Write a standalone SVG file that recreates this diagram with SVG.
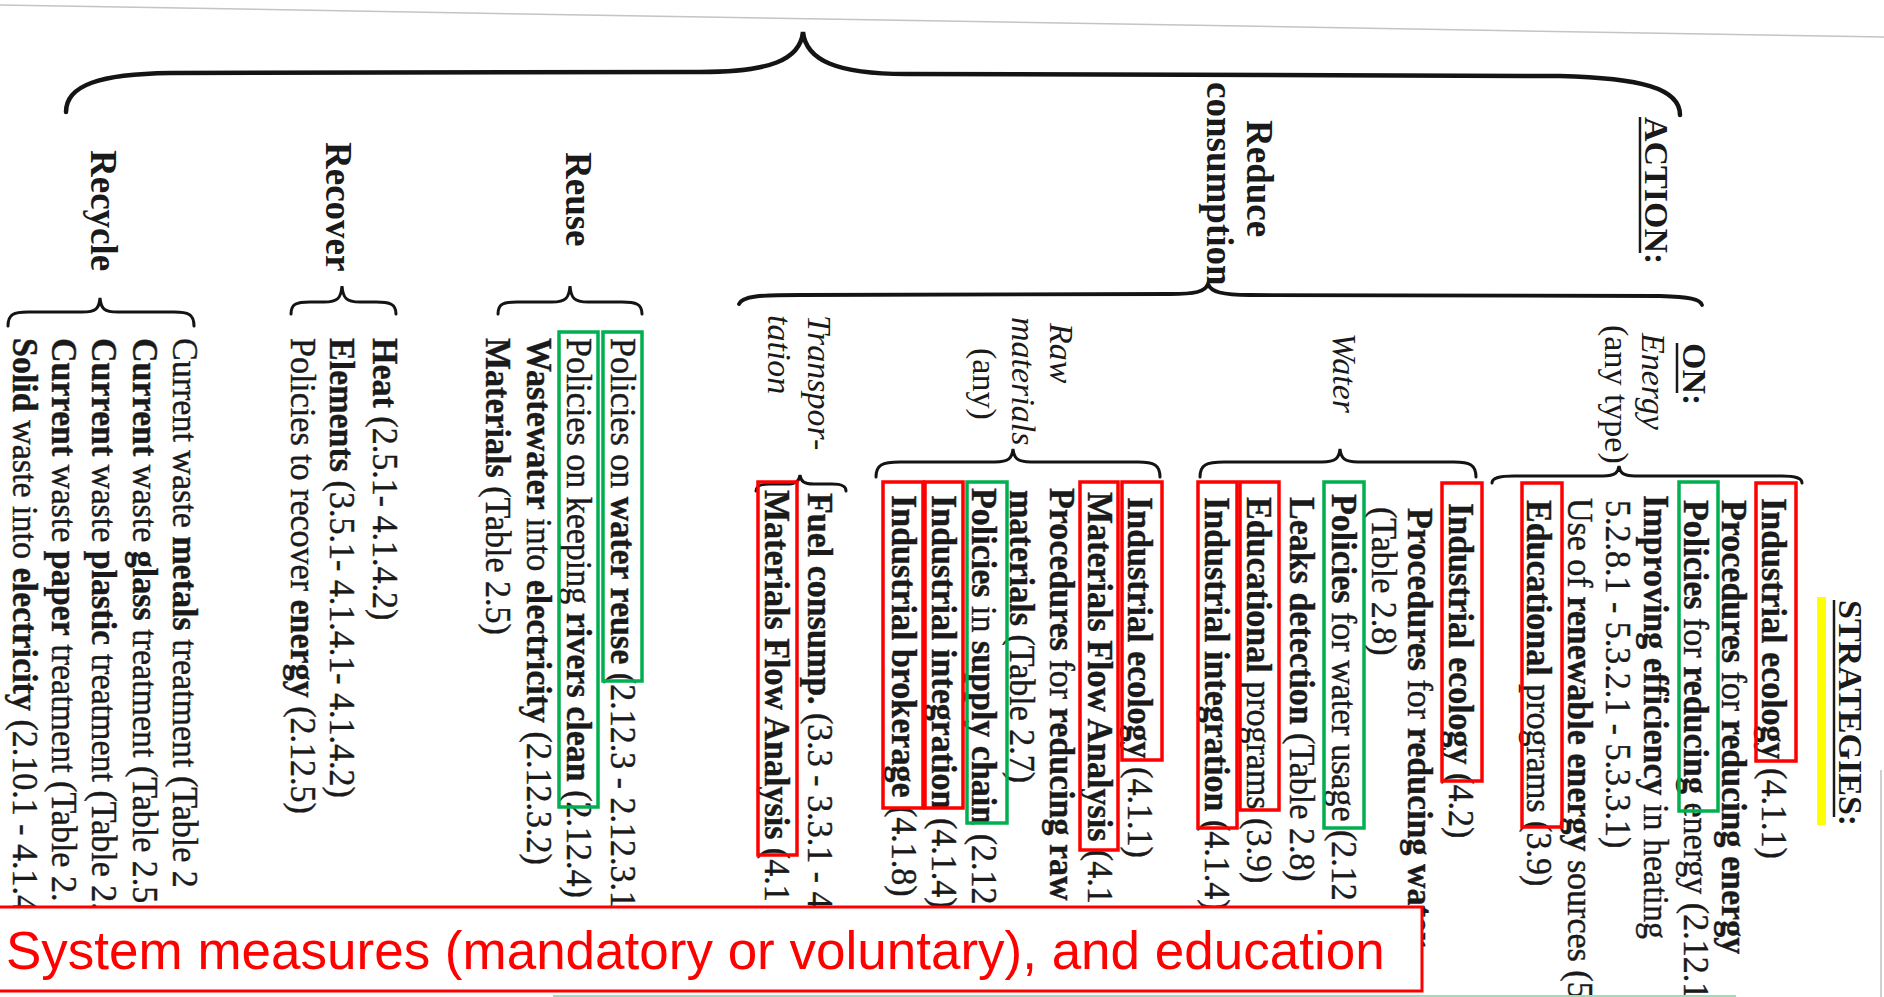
<svg xmlns="http://www.w3.org/2000/svg" width="1884" height="997" viewBox="0 0 1884 997">
<style>
text{font-family:"Liberation Serif","Times New Roman",serif;fill:#1a1a1a}
.t{font-size:34px;stroke:#1a1a1a;stroke-width:0.4}
.b{font-weight:bold}
.h{font-size:37px;font-weight:bold}
.hs{font-size:34px;font-weight:bold}
.i{font-size:34px;font-style:italic}
.br{fill:none;stroke:#141414;stroke-width:3;stroke-linecap:round}
.bigbr{fill:none;stroke:#141414;stroke-width:4.5;stroke-linecap:round}
.ul{stroke:#1a1a1a;stroke-width:2.5}
.rb{fill:none;stroke:#ff0000;stroke-width:3.5}
.gb{fill:none;stroke:#00b050;stroke-width:3.5}
.cap{font-family:"Liberation Sans",Arial,sans-serif;font-size:53px;fill:#ff0000}
</style>
<rect x="0" y="0" width="1884" height="997" fill="#ffffff"/>
<line x1="0" y1="5" x2="1884" y2="37" stroke="#c4c4c4" stroke-width="1.5"/>
<line x1="1881" y1="770" x2="1881" y2="997" stroke="#d0d0d0" stroke-width="2"/>

<g id="connectors">
<path class="bigbr" d="M66,112 C66,85 100,74 170,73 L700,72 C770,72 800,60 803,32 C806,60 836,74 906,74 L1560,76 C1640,78 1680,88 1680,115"/>
<path class="bigbr" style="stroke-width:3.8" d="M739,304 C742,296 760,295 800,295 L1170,294 C1195,294 1205,292 1208,284 C1211,292 1222,295 1250,295 L1660,296 C1690,297 1700,299 1702,305"/>
<path class="br" d="M8,326 C8,314 14,312 28,312 L82,312 C96,312 99,309 100,298 C101,309 104,312 118,312 L174,312 C188,312 194,314 194,326"/>
<path class="br" d="M291,314 C291,304 296,302 310,302 L324,302 C338,302 341,298 342,286 C343,298 346,302 360,302 L376,302 C390,302 396,304 396,314"/>
<path class="br" d="M498,314 C498,304 503,302 517,302 L552,302 C566,302 569,298 570,286 C571,298 574,302 588,302 L622,302 C636,302 642,304 642,314"/>
<path class="br" d="M756,491 C756,486 760,484 770,484 L786,484 C797,484 799,481 800,475 C801,481 803,484 814,484 L832,484 C842,484 846,486 846,491"/>
<path class="br" d="M876,477 C876,465 882,462 900,462 L995,462 C1009,462 1012,458 1013,449 C1014,458 1017,462 1031,462 L1138,462 C1154,462 1160,465 1160,477"/>
<path class="br" d="M1200,477 C1200,465 1206,462 1224,462 L1322,462 C1336,462 1339,458 1340,449 C1341,458 1344,462 1358,462 L1454,462 C1470,462 1476,465 1476,477"/>
<path class="br" d="M1492,483 C1492,478 1498,476 1514,476 L1603,476 C1616,476 1618,472 1619,466 C1620,472 1622,476 1635,476 L1782,476 C1796,476 1802,478 1802,483"/>
</g>

<g id="action">
<text class="hs" transform="translate(1645,117) rotate(90)">ACTION:</text>
<line class="ul" x1="1640" y1="117" x2="1640" y2="253"/>
</g>

<g id="strategies">
<rect x="1817" y="597" width="9" height="228" fill="#ffff00"/>
<text class="hs" transform="translate(1839,600) rotate(90)">STRATEGIES:</text>
<line class="ul" x1="1834" y1="600" x2="1834" y2="817"/>
</g>

<g id="recycle">
<text class="h" transform="translate(91,150) rotate(90)">Recycle</text>
<text class="t" transform="translate(173,338) rotate(90) scale(1,1.07)">Current waste <tspan class="b">metals</tspan> treatment (Table 2</text>
<text class="t" transform="translate(133,338) rotate(90) scale(1,1.07)"><tspan class="b">Current</tspan> waste <tspan class="b">glass</tspan> treatment (Table 2.5</text>
<text class="t" transform="translate(92,338) rotate(90) scale(1,1.07)"><tspan class="b">Current</tspan> waste <tspan class="b">plastic</tspan> treatment (Table 2.</text>
<text class="t" transform="translate(52,338) rotate(90) scale(1,1.07)"><tspan class="b">Current</tspan> waste <tspan class="b">paper</tspan> treatment (Table 2.</text>
<text class="t" transform="translate(13,338) rotate(90) scale(1,1.07)"><tspan class="b">Solid</tspan> waste into <tspan class="b">electricity</tspan> (2.10.1 - 4.1.4</text>
</g>

<g id="recover">
<text class="h" transform="translate(326,142) rotate(90)">Recover</text>
<text class="t" transform="translate(373,338) rotate(90) scale(1,1.07)"><tspan class="b">Heat</tspan> (2.5.1- 4.1.4.2)</text>
<text class="t" transform="translate(330,338) rotate(90) scale(1,1.07)"><tspan class="b">Elements</tspan> (3.5.1- 4.1.4.1- 4.1.4.2)</text>
<text class="t" transform="translate(291,338) rotate(90) scale(1,1.07)">Policies to recover <tspan class="b">energy</tspan> (2.12.5)</text>
</g>

<g id="reuse">
<text class="h" transform="translate(566,152) rotate(90)">Reuse</text>
<text class="t" transform="translate(611,338) rotate(90) scale(1,1.07)">Policies on <tspan class="b">water reuse</tspan> (2.12.3 - 2.12.3.1</text>
<text class="t" transform="translate(567,338) rotate(90) scale(1,1.07)">Policies on keeping <tspan class="b">rivers clean</tspan> (2.12.4)</text>
<text class="t" transform="translate(527,338) rotate(90) scale(1,1.07)"><tspan class="b">Wastewater</tspan> into <tspan class="b">electricity</tspan> (2.12.3.2)</text>
<text class="t" transform="translate(486,338) rotate(90) scale(1,1.07)"><tspan class="b">Materials</tspan> (Table 2.5)</text>
<rect class="gb" x="603" y="332" width="39" height="349"/>
<rect class="gb" x="559" y="332" width="39" height="475"/>
</g>

<g id="reduce">
<text class="h" transform="translate(1247,120) rotate(90)">Reduce</text>
<text class="h" transform="translate(1207,82) rotate(90)">consumption</text>
</g>

<g id="transportation">
<text class="i" transform="translate(808,315) rotate(90)">Transpor-</text>
<text class="i" transform="translate(768,315) rotate(90)">tation</text>
<text class="t" transform="translate(808,493) rotate(90) scale(1,1.07)"><tspan class="b">Fuel consump.</tspan> (3.3 - 3.3.1 - 4</text>
<text class="t" transform="translate(765,490) rotate(90) scale(1,1.07)"><tspan class="b">Materials Flow Analysis</tspan> (4.1</text>
<rect class="rb" x="758" y="482" width="39" height="373"/>
</g>

<g id="raw-materials">
<text class="i" transform="translate(1050,323) rotate(90)">Raw</text>
<text class="i" transform="translate(1012,317) rotate(90)">materials</text>
<text class="t" transform="translate(973,348) rotate(90)" style="stroke-width:0">(any)</text>
<text class="t" transform="translate(1128,497) rotate(90) scale(1,1.07)"><tspan class="b">Industrial ecology</tspan> (4.1.1)</text>
<text class="t" transform="translate(1088,492) rotate(90) scale(1,1.07)"><tspan class="b">Materials Flow Analysis</tspan> (4.1</text>
<text class="t" transform="translate(1050,488) rotate(90) scale(1,1.07)"><tspan class="b">Procedures</tspan> for <tspan class="b">reducing raw</tspan></text>
<text class="t" transform="translate(1010,490) rotate(90) scale(1,1.07)"><tspan class="b">materials</tspan> (Table 2.7)</text>
<text class="t" transform="translate(972,488) rotate(90) scale(1,1.07)"><tspan class="b">Policies</tspan> in <tspan class="b">supply chain</tspan> (2.12</text>
<text class="t" transform="translate(932,495) rotate(90) scale(1,1.07)"><tspan class="b">Industrial integration</tspan> (4.1.4)</text>
<text class="t" transform="translate(892,495) rotate(90) scale(1,1.07)"><tspan class="b">Industrial brokerage</tspan> (4.1.8)</text>
<rect class="rb" x="1122" y="482" width="40" height="278"/>
<rect class="rb" x="1080" y="482" width="38" height="368"/>
<rect class="gb" x="967" y="482" width="40" height="341"/>
<rect class="rb" x="925" y="482" width="38" height="326"/>
<rect class="rb" x="883" y="482" width="40" height="326"/>
</g>

<g id="water">
<text class="i" transform="translate(1333,333) rotate(90)">Water</text>
<text class="t" transform="translate(1449,503) rotate(90) scale(1,1.07)"><tspan class="b">Industrial ecology</tspan> (4.2)</text>
<text class="t" transform="translate(1408,508) rotate(90) scale(1,1.07)"><tspan class="b">Procedures</tspan> for <tspan class="b">reducing water</tspan></text>
<text class="t" transform="translate(1372,507) rotate(90) scale(1,1.07)">(Table 2.8)</text>
<text class="t" transform="translate(1332,494) rotate(90) scale(1,1.07)"><tspan class="b">Policies</tspan> for water usage (2.12</text>
<text class="t" transform="translate(1290,497) rotate(90) scale(1,1.07)"><tspan class="b">Leaks detection</tspan> (Table 2.8)</text>
<text class="t" transform="translate(1247,497) rotate(90) scale(1,1.07)"><tspan class="b">Educational</tspan> programs (3.9)</text>
<text class="t" transform="translate(1205,497) rotate(90) scale(1,1.07)"><tspan class="b">Industrial integration</tspan> (4.1.4)</text>
<rect class="rb" x="1442" y="483" width="40" height="298"/>
<rect class="gb" x="1324" y="482" width="40" height="346"/>
<rect class="rb" x="1240" y="482" width="39" height="328"/>
<rect class="rb" x="1198" y="482" width="39" height="346"/>
</g>

<g id="energy">
<text class="hs" transform="translate(1683,343) rotate(90)">ON:</text>
<line class="ul" x1="1677" y1="343" x2="1677" y2="393"/>
<text class="i" transform="translate(1642,333) rotate(90)">Energy</text>
<text class="t" transform="translate(1605,325) rotate(90)" style="stroke-width:0">(any type)</text>
<text class="t" transform="translate(1762,498) rotate(90) scale(1,1.07)"><tspan class="b">Industrial ecology</tspan> (4.1.1)</text>
<text class="t" transform="translate(1722,500) rotate(90) scale(1,1.07)"><tspan class="b">Procedures</tspan> for <tspan class="b">reducing energy</tspan></text>
<text class="t" transform="translate(1684,500) rotate(90) scale(1,1.07)"><tspan class="b">Policies</tspan> for <tspan class="b">reducing</tspan> energy (2.12.1</text>
<text class="t" transform="translate(1644,495) rotate(90) scale(1,1.07)"><tspan class="b">Improving efficiency</tspan> in heating</text>
<text class="t" transform="translate(1606,500) rotate(90) scale(1,1.07)">5.2.8.1 - 5.3.2.1 - 5.3.3.1)</text>
<text class="t" transform="translate(1568,498) rotate(90) scale(1,1.07)">Use of <tspan class="b">renewable energy</tspan> sources (5</text>
<text class="t" transform="translate(1527,500) rotate(90) scale(1,1.07)"><tspan class="b">Educational</tspan> programs (3.9)</text>
<rect class="rb" x="1756" y="483" width="40" height="278"/>
<rect class="gb" x="1679" y="482" width="39" height="329"/>
<rect class="rb" x="1522" y="483" width="40" height="344"/>
</g>

<g id="caption">
<rect x="-2" y="907" width="1424" height="84" fill="#ffffff" stroke="#ff0000" stroke-width="3"/>
<text class="cap" x="6" y="969">System measures (mandatory or voluntary), and education</text>
</g>
<line x1="553" y1="996" x2="1736" y2="996" stroke="#9fdcb5" stroke-width="2"/>
</svg>
